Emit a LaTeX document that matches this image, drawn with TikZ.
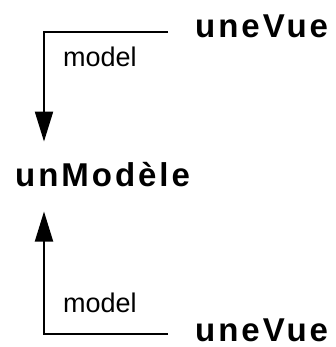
\documentclass[tikz,border=0pt]{standalone}
\usepackage{fontspec}
\setmainfont{Liberation Sans}
\newfontfamily\titrefont[LetterSpace=9]{Liberation Sans}
\usepackage{tikz}
\usetikzlibrary{arrows.meta}

\begin{document}
\begin{tikzpicture}[x=1pt,y=-1pt,
		objet/.style={inner sep=0pt,anchor=base west,font=\titrefont\bfseries\fontsize{33}{37}\selectfont},
		etiq/.style={inner sep=0pt,anchor=base west,font=\fontsize{27}{31}\selectfont},
		lien/.style={line width=2pt,-{Triangle[length=30pt,width=18pt]},shorten <=27pt}]
		\useasboundingbox (0,0) rectangle (336,347);
		\node[objet] (vue1) at (195,38) {uneVue};
		\node[objet] (modele) at (15,186) {unModèle};
		\node[objet] (vue2) at (195,341) {uneVue};
		\coordinate (coin1) at (44,32);
		\coordinate (coin2) at (44,334);
		\draw[lien,shorten >=20pt] (vue1.west |- coin1) -- (coin1) -- (coin1 |- modele.north);
		\draw[lien,shorten >=25pt] (vue2.west |- coin2) -- (coin2) -- (coin2 |- modele.south);
		\node[etiq] (m1) at (63,67) {model};
		\node[etiq] (m2) at (63,312) {model};
\end{tikzpicture}
\end{document}
